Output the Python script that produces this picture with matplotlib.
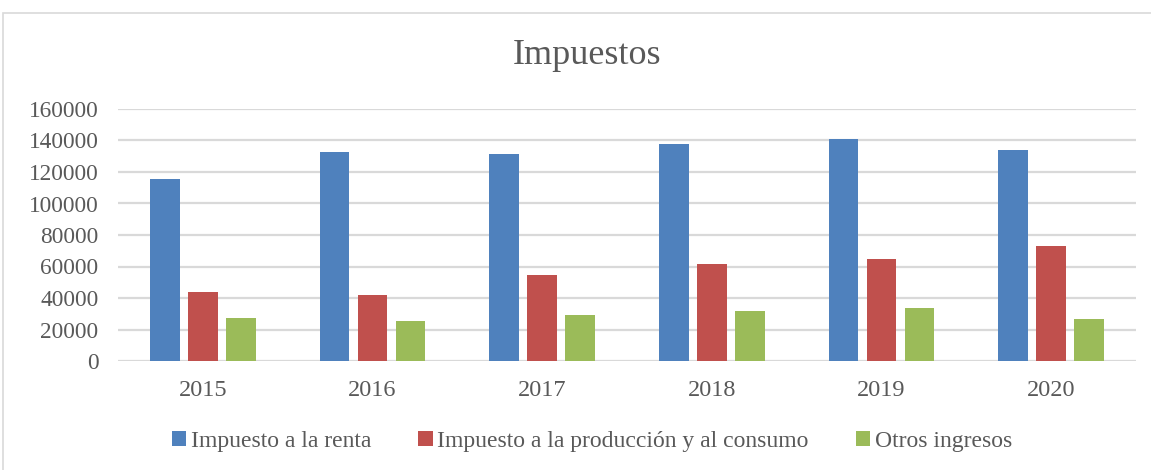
import matplotlib
matplotlib.use("Agg")
import matplotlib.pyplot as plt
import numpy as np
from matplotlib.patches import Rectangle

years = ["2015", "2016", "2017", "2018", "2019", "2020"]
renta = [115500, 132400, 131400, 138000, 141100, 133900]
produccion = [43700, 41800, 54900, 61500, 64600, 73100]
otros = [27300, 25600, 29200, 31800, 33500, 26500]
series_names = ["Impuesto a la renta", "Impuesto a la producción y al consumo", "Otros ingresos"]
yticks = [0, 20000, 40000, 60000, 80000, 100000, 120000, 140000, 160000]

colors = ["#4F81BD", "#C0504D", "#9BBB59"]
txt = "#595959"
font = ["Liberation Serif", "DejaVu Serif"]

W, H = 1151, 470
fig = plt.figure(figsize=(W / 100, H / 100), dpi=100)
fig.patch.set_facecolor("white")

# outer chart border
fig.add_artist(Rectangle((3 / W, -0.05), 1.2, 1 - 13 / H + 0.05, transform=fig.transFigure,
                         fill=False, edgecolor="#D9D9D9", lw=1.2))

ax = fig.add_axes([118 / W, 1 - 361 / H, (1136 - 118) / W, (361 - 109) / H])
x = np.arange(len(years))
bw = 0.176
step = 0.224
for i, (vals, name) in enumerate(zip([renta, produccion, otros], series_names)):
    ax.bar(x + (i - 1) * step, vals, width=bw, color=colors[i], label=name, zorder=3)

ax.set_xlim(-0.5, len(years) - 0.5)
ax.set_ylim(0, 160000)
ax.set_yticks(yticks)
ax.set_yticklabels([str(v) for v in yticks], fontfamily=font, fontsize=16.8, color=txt)
ax.set_xticks(x)
ax.set_xticklabels(years, fontfamily=font, fontsize=17.5, color=txt)
ax.tick_params(axis="both", length=0)
ax.tick_params(axis="y", pad=14)
ax.tick_params(axis="x", pad=14)
ax.grid(axis="y", color="#D9D9D9", lw=1.6, zorder=0)
for s in ax.spines.values():
    s.set_visible(False)

fig.text(587 / W, 1 - 55 / H, "Impuestos", ha="center", va="center",
         fontfamily=font, fontsize=26, color=txt)

leg = fig.legend(loc="center", bbox_to_anchor=(592 / W, 1 - 441 / H), ncol=3, frameon=False,
                 prop={"family": font, "size": 17}, handlelength=0.6, handleheight=0.6,
                 handletextpad=0.2, columnspacing=2.0)
for t in leg.get_texts():
    t.set_color(txt)

fig.savefig("out.png", dpi=100, facecolor="white")
